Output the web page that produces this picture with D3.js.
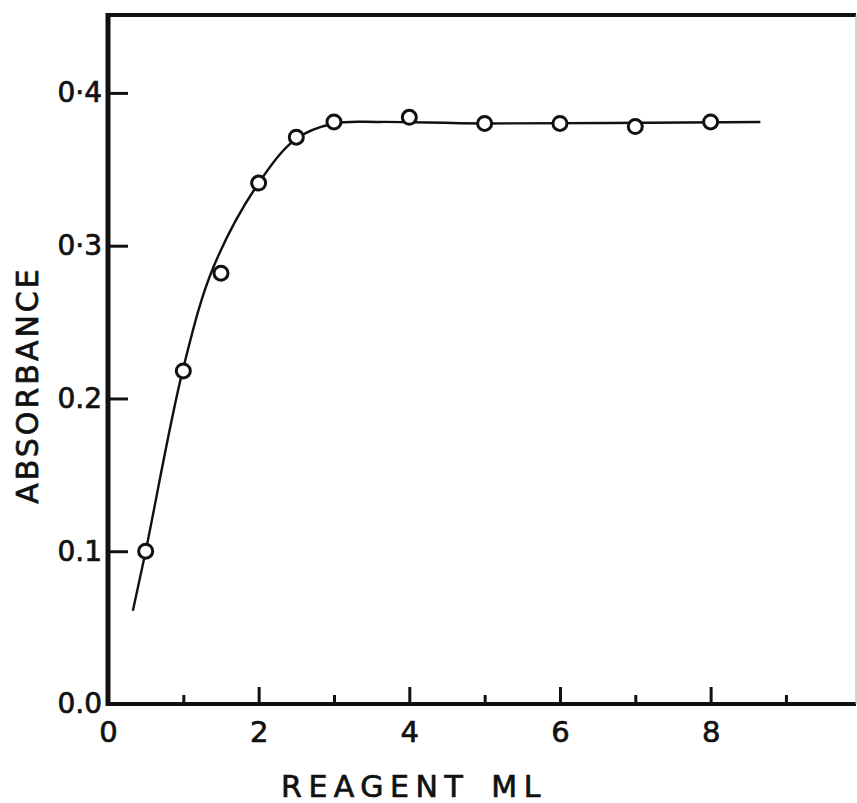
<!DOCTYPE html>
<html>
<head>
<meta charset="utf-8">
<script src="https://cdn.jsdelivr.net/npm/d3@7"></script>
<style>
  body { margin: 0; background: #fff; }
  text { font-family: "DejaVu Sans", sans-serif; fill: #111; stroke: #111; stroke-width: 0.7px; }
</style>
</head>
<body>
<script>
// measured points
let reagent = [0.5, 1.0, 1.5, 2.0, 2.5, 3.0, 4.0, 5.0, 6.0, 7.0, 8.0];
let absorbance = [0.100, 0.218, 0.282, 0.341, 0.371, 0.381, 0.384, 0.380, 0.380, 0.378, 0.381];

// hand drawn curve
let curveX = [0.33, 0.5, 1.0, 1.4, 2.0, 2.5, 3.0, 3.6, 5.0, 8.66];
let curveY = [0.061, 0.100, 0.220, 0.286, 0.341, 0.370, 0.380, 0.381, 0.380, 0.381];

let xMajor = [0, 2, 4, 6, 8];
let xMinor = [1, 3, 5, 7, 9];
let yTicks = [0.0, 0.1, 0.2, 0.3, 0.4];
let yLabels = ["0.0", "0.1", "0.2", "0\u00b73", "0\u00b74"];

let w = 857, h = 803;
let mLeft = 108, mRight = 856, mTop = 15, mBottom = 704;

let svg = d3.select("body").append("svg")
  .attr("width", w)
  .attr("height", h);

let x = d3.scaleLinear().domain([0, 9.93]).range([mLeft, mRight]);
let y = d3.scaleLinear().domain([0, 0.451]).range([mBottom, mTop]);

// minor x ticks
svg.append("g")
  .attr("transform", "translate(0," + mBottom + ")")
  .call(d3.axisBottom(x).tickValues(xMinor).tickSize(-9).tickFormat(""))
  .call(g => g.select(".domain").remove())
  .call(g => g.selectAll("line").attr("stroke", "#111").attr("stroke-width", 3));

// major x ticks
let xAxis = svg.append("g")
  .attr("transform", "translate(0," + mBottom + ")")
  .call(d3.axisBottom(x).tickValues(xMajor).tickSize(-17).tickPadding(17).tickFormat(d3.format("d")));
xAxis.select(".domain").remove();
xAxis.selectAll("line").attr("stroke", "#111").attr("stroke-width", 3);
xAxis.selectAll("text")
  .style("font-size", "29px")
  .attr("fill", "#111");

// y ticks
let yAxis = svg.append("g")
  .attr("transform", "translate(" + mLeft + ",0)")
  .call(d3.axisLeft(y).tickValues(yTicks).tickSize(-20).tickPadding(6)
    .tickFormat((d, i) => yLabels[i]));
yAxis.select(".domain").remove();
yAxis.selectAll("line").attr("stroke", "#111").attr("stroke-width", 3);
yAxis.selectAll("text")
  .style("font-size", "28px")
  .attr("fill", "#111");

// frame
svg.append("line")
  .attr("x1", mLeft).attr("x2", mRight)
  .attr("y1", y(0)).attr("y2", y(0))
  .attr("stroke", "#111").attr("stroke-width", 4);
svg.append("line")
  .attr("x1", mLeft).attr("x2", mLeft)
  .attr("y1", y(0) + 2).attr("y2", mTop - 2)
  .attr("stroke", "#111").attr("stroke-width", 5);
svg.append("line")
  .attr("x1", mLeft).attr("x2", mRight)
  .attr("y1", mTop).attr("y2", mTop)
  .attr("stroke", "#111").attr("stroke-width", 4);
svg.append("line")
  .attr("x1", mRight).attr("x2", mRight)
  .attr("y1", mTop).attr("y2", y(0))
  .attr("stroke", "#aaa").attr("stroke-width", 1);

// fitted curve
let line = d3.line()
  .x(d => x(d[0]))
  .y(d => y(d[1]))
  .curve(d3.curveCatmullRom.alpha(0.5));

svg.append("path")
  .datum(d3.zip(curveX, curveY))
  .attr("d", line)
  .attr("fill", "none")
  .attr("stroke", "#111")
  .attr("stroke-width", 2.4);

// points
svg.selectAll("circle")
  .data(d3.zip(reagent, absorbance))
  .enter()
  .append("circle")
  .attr("cx", d => x(d[0]))
  .attr("cy", d => y(d[1]))
  .attr("r", 7)
  .attr("fill", "#fff")
  .attr("stroke", "#111")
  .attr("stroke-width", 3);

// axis titles
svg.append("text")
  .attr("x", 414)
  .attr("y", 797)
  .attr("text-anchor", "middle")
  .style("font-size", "30px")
  .style("letter-spacing", "6.5px")
  .style("word-spacing", "6px")
  .text("REAGENT ML");

svg.append("text")
  .attr("transform", "translate(38,385) rotate(-90)")
  .attr("text-anchor", "middle")
  .style("font-size", "30px")
  .style("letter-spacing", "3px")
  .text("ABSORBANCE");
</script>
</body>
</html>
